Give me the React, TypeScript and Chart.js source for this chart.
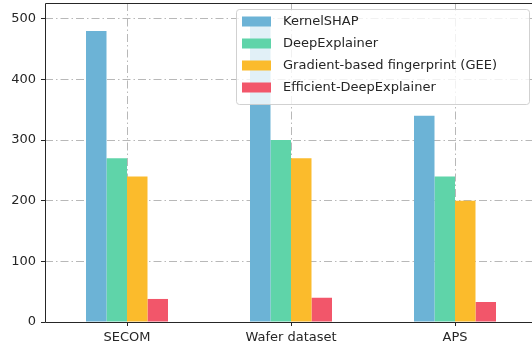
import React, { useEffect, useRef } from "react";
import { Chart, registerables } from "chart.js";

Chart.register(...registerables);

// Runtime comparison per dataset
const categories = ["SECOM", "Wafer dataset", "APS"];
const seriesNames = [
  "KernelSHAP",
  "DeepExplainer",
  "Gradient-based fingerprint (GEE)",
  "Efficient-DeepExplainer",
];
const kernelShap = [480, 488, 340];
const deepExplainer = [270, 300, 240];
const gradientGee = [240, 270, 200];
const efficientDeep = [38, 40, 33];
const seriesColors = ["#6cb3d6", "#5fd4a9", "#fbbb2c", "#f2566a"];
const yTicks = [0, 100, 200, 300, 400, 500];
const yMax = 526;

const TEXT = "#262626";
const FONT = "DejaVu Sans";

// Left, top and bottom spines drawn on top of the bars
const framePlugin = {
  id: "frame",
  afterDatasetsDraw(chart: any) {
    const { ctx, chartArea } = chart;
    const l = Math.round(chartArea.left) + 0.5;
    const t = Math.round(chartArea.top) + 0.5;
    const b = Math.round(chartArea.bottom) + 0.5;
    const r = chartArea.right;
    ctx.save();
    ctx.strokeStyle = "#262626";
    ctx.lineWidth = 1;
    ctx.beginPath();
    ctx.moveTo(r, t);
    ctx.lineTo(l, t);
    ctx.lineTo(l, b);
    ctx.lineTo(r, b);
    ctx.stroke();
    ctx.restore();
  },
};

// Legend box placed inside the plot area, upper right
const insideLegend = {
  id: "insideLegend",
  afterDraw(chart: any) {
    const { ctx } = chart;
    const x = 236.5;
    const y = 9.5;
    const w = 293;
    const h = 95;
    const r = 3;
    ctx.save();
    ctx.beginPath();
    ctx.moveTo(x + r, y);
    ctx.lineTo(x + w - r, y);
    ctx.arcTo(x + w, y, x + w, y + r, r);
    ctx.lineTo(x + w, y + h - r);
    ctx.arcTo(x + w, y + h, x + w - r, y + h, r);
    ctx.lineTo(x + r, y + h);
    ctx.arcTo(x, y + h, x, y + h - r, r);
    ctx.lineTo(x, y + r);
    ctx.arcTo(x, y, x + r, y, r);
    ctx.closePath();
    ctx.fillStyle = "rgba(255,255,255,0.8)";
    ctx.fill();
    ctx.strokeStyle = "rgba(204,204,204,0.9)";
    ctx.lineWidth = 1;
    ctx.stroke();

    ctx.font = `13px "${FONT}"`;
    ctx.textBaseline = "middle";
    ctx.textAlign = "left";
    chart.data.datasets.forEach((ds: any, i: number) => {
      const cy = 21.5 + i * 22;
      ctx.fillStyle = ds.backgroundColor;
      ctx.fillRect(242, cy - 5, 29, 10);
      ctx.fillStyle = TEXT;
      ctx.fillText(ds.label, 283, cy + 0.5);
    });
    ctx.restore();
  },
};

export default function App() {
  const canvasRef = useRef<HTMLCanvasElement | null>(null);

  useEffect(() => {
    document.documentElement.style.overflow = "hidden";
    document.body.style.overflow = "hidden";
    if (!canvasRef.current) return;
    const values = [kernelShap, deepExplainer, gradientGee, efficientDeep];
    const chart = new Chart(canvasRef.current, {
      type: "bar",
      data: {
        labels: categories,
        datasets: seriesNames.map((name, i) => ({
          label: name,
          data: values[i],
          backgroundColor: seriesColors[i],
          borderWidth: 0,
          categoryPercentage: 0.5,
          barPercentage: 1.0,
        })),
      },
      options: {
        responsive: false,
        animation: false,
        layout: { padding: { top: 3, right: 8, left: 0, bottom: 0 } },
        plugins: {
          legend: { display: false },
          tooltip: { enabled: false },
        },
        scales: {
          x: {
            offset: true,
            border: { display: false, dash: [8, 3, 1.5, 3] },
            grid: {
              offset: false,
              color: "#b8b8b8",
              lineWidth: 1,
              drawTicks: true,
              tickLength: 4,
              tickColor: "#262626",
              tickWidth: 1,
            },
            ticks: {
              color: TEXT,
              font: { family: FONT, size: 13 },
              padding: 4,
              maxRotation: 0,
            },
            afterFit: (scale: any) => {
              scale.height = 29;
              scale.paddingLeft = 0;
              scale.paddingRight = 0;
            },
          },
          y: {
            min: 0,
            max: yMax,
            border: { display: false, dash: [8, 3, 1.5, 3] },
            grid: {
              color: "#b8b8b8",
              lineWidth: 1,
              drawTicks: true,
              tickLength: 4,
              tickColor: "#262626",
              tickWidth: 1,
            },
            afterBuildTicks: (scale: any) => {
              scale.ticks = yTicks.map((v) => ({ value: v }));
            },
            ticks: {
              color: TEXT,
              font: { family: FONT, size: 13 },
              padding: 5,
              includeBounds: false,
            },
            afterFit: (scale: any) => {
              scale.width = 45;
              scale.paddingTop = 0;
              scale.paddingBottom = 0;
            },
          },
        },
      },
      plugins: [framePlugin, insideLegend],
    });
    return () => chart.destroy();
  }, []);

  return (
    <div
      style={{
        position: "fixed",
        left: 0,
        top: 0,
        width: 532,
        height: 351,
        overflow: "hidden",
        background: "#fff",
      }}
    >
      <canvas
        ref={canvasRef}
        width={545}
        height={351}
        style={{ display: "block", width: 545, height: 351 }}
      />
    </div>
  );
}
